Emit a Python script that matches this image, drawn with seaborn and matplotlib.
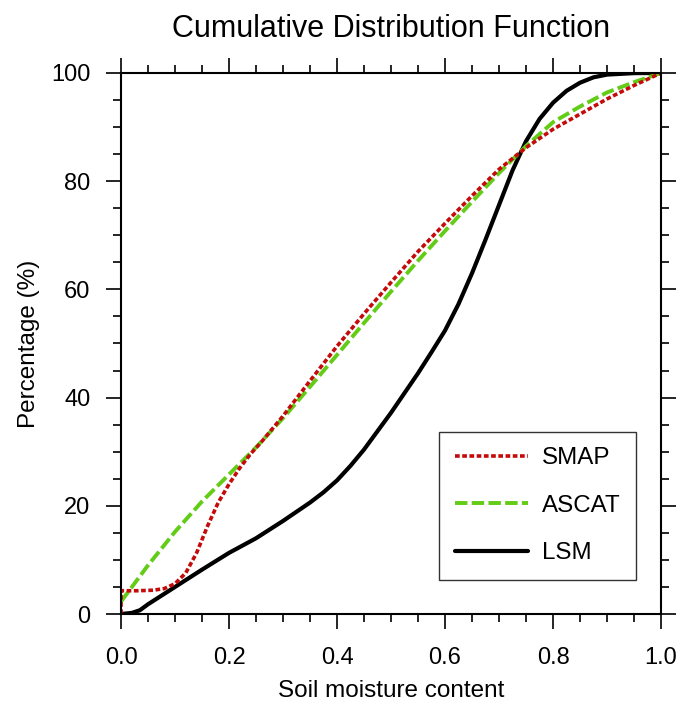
import pandas as pd
import matplotlib.pyplot as plt
import seaborn as sns
from matplotlib.ticker import MultipleLocator

# Values
smap_x = [0.0, 0.0, 0.03, 0.06, 0.08, 0.1, 0.12, 0.14, 0.16, 0.18, 0.2, 0.22, 0.24, 0.26,
          0.3, 0.35, 0.4, 0.45, 0.5, 0.55, 0.6, 0.65, 0.7, 0.75, 0.8, 0.85, 0.9, 0.95, 1.0]
smap_y = [0.0, 4.3, 4.3, 4.4, 4.7, 5.6, 7.6, 11.3, 16.2, 20.6, 24.0, 27.0, 29.6, 31.8,
          36.6, 43.1, 49.5, 55.5, 61.3, 67.0, 72.2, 77.3, 82.2, 86.2, 89.6, 92.4, 95.2, 97.7, 100.0]

ascat_x = [0.0, 0.05, 0.1, 0.15, 0.2, 0.25, 0.3, 0.35, 0.4, 0.45, 0.5, 0.55, 0.6, 0.65,
           0.7, 0.75, 0.8, 0.85, 0.9, 0.95, 1.0]
ascat_y = [2.3, 9.0, 15.2, 20.8, 25.8, 30.8, 36.2, 42.0, 47.9, 53.8, 59.6, 65.3, 70.8, 76.2,
           81.5, 86.5, 90.9, 93.8, 96.4, 98.3, 100.0]

lsm_x = [0.0, 0.02, 0.035, 0.05, 0.1, 0.15, 0.2, 0.25, 0.3, 0.35, 0.375, 0.4, 0.425, 0.45,
         0.5, 0.55, 0.575, 0.6, 0.625, 0.65, 0.675, 0.7, 0.725, 0.75, 0.775, 0.8, 0.825,
         0.85, 0.875, 0.9, 0.95, 1.0]
lsm_y = [0.0, 0.2, 0.7, 1.8, 5.0, 8.2, 11.3, 14.0, 17.2, 20.6, 22.5, 24.7, 27.4, 30.4,
         37.2, 44.5, 48.4, 52.4, 57.3, 63.0, 69.2, 75.6, 82.0, 87.4, 91.5, 94.5, 96.7,
         98.2, 99.2, 99.7, 99.97, 100.0]

sns.set_theme(style="ticks")
plt.rcParams['font.family'] = ['Liberation Sans', 'DejaVu Sans']
plt.rcParams['text.color'] = 'black'
plt.rcParams['axes.labelcolor'] = 'black'
plt.rcParams['xtick.color'] = 'black'
plt.rcParams['ytick.color'] = 'black'

fig = plt.figure(figsize=(6.81, 7.01), dpi=100)
ax = fig.add_axes([0.1777, 0.1241, 0.793, 0.7718])

sns.lineplot(x=lsm_x, y=lsm_y, ax=ax, color='black', linewidth=3.0,
             estimator=None, sort=False, label='LSM', solid_capstyle='round')
sns.lineplot(x=ascat_x, y=ascat_y, ax=ax, color='#62cc16', linewidth=2.8,
             linestyle=(0, (3.2, 1.1)), estimator=None, sort=False, label='ASCAT')
sns.lineplot(x=smap_x, y=smap_y, ax=ax, color='#c40a0a', linewidth=2.6,
             linestyle=(0, (1.3, 0.7)), estimator=None, sort=False, label='SMAP')

ax.set_xlim(0, 1)
ax.set_ylim(0, 100)
ax.xaxis.set_major_locator(MultipleLocator(0.2))
ax.xaxis.set_minor_locator(MultipleLocator(0.05))
ax.yaxis.set_major_locator(MultipleLocator(20))
ax.yaxis.set_minor_locator(MultipleLocator(5))
ax.xaxis.set_major_formatter(plt.FormatStrFormatter('%.1f'))

ax.tick_params(which='both', direction='out', top=True, right=True,
               width=1.2, color='black', labelsize=17)
ax.tick_params(which='major', length=11)
ax.tick_params(axis='x', which='major', pad=13)
ax.tick_params(axis='y', which='major', pad=11)
ax.tick_params(which='minor', length=6)
for side in ax.spines.values():
    side.set_linewidth(1.5)
    side.set_color('black')

ax.set_title('Cumulative Distribution Function', fontsize=22, pad=26)
ax.set_xlabel('Soil moisture content', fontsize=17.5, labelpad=8)
ax.set_ylabel('Percentage (%)', fontsize=17.5, labelpad=8)

handles, labels = ax.get_legend_handles_labels()
order = [labels.index(n) for n in ['SMAP', 'ASCAT', 'LSM']]
leg = ax.legend([handles[i] for i in order], [labels[i] for i in order],
                loc='center', bbox_to_anchor=(0.772, 0.2), fontsize=17.4,
                handlelength=3.0, handletextpad=0.6, labelspacing=1.05,
                borderpad=0.65, fancybox=False, framealpha=1)
leg.get_frame().set_edgecolor('#333333')
leg.get_frame().set_linewidth(1.0)

plt.savefig('out.png', dpi=100)
